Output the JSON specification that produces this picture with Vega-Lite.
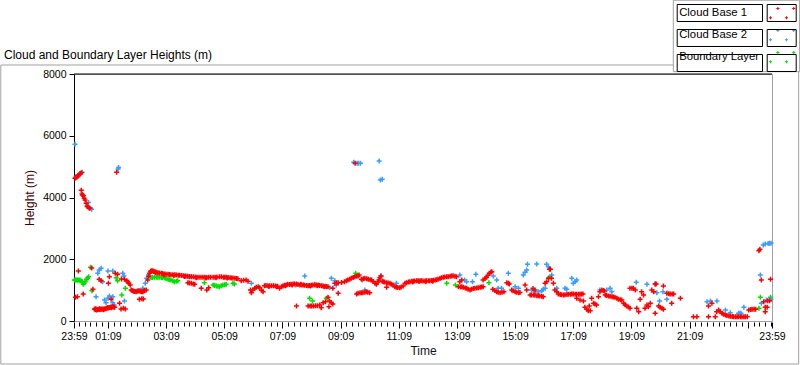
{
"$schema":"https://vega.github.io/schema/vega-lite/v6.json",
"width":698,"height":247,
"autosize":{"type":"none"},
"padding":{"left":74,"top":74,"right":28,"bottom":44},
"background":"white",
"config":{"font":"Liberation Sans","view":{"stroke":"#a0a0a0"}},
"title":{"text":"Cloud and Boundary Layer Heights (m)","anchor":"start","frame":"group","dx":-70,"offset":-74,"baseline":"bottom","fontSize":12,"fontWeight":"normal","color":"#000000","font":"Liberation Sans"},
"resolve":{"axis":{"x":"independent"}},
"layer":[
{"data":{"values":[{"frame":"outer"}]},
"mark":{"type":"rect","fill":null,"stroke":"#a0a0a0","strokeWidth":1,"clip":false},
"encoding":{
"x":{"datum":-151,"type":"quantitative","scale":{"domain":[0,1440],"nice":false,"zero":false},"axis":{"orient":"bottom","values":[10,22,34,46,58,70,82,94,106,118,130,142,154,166,178,190,202,214,226,238,250,262,274,286,298,310,322,334,346,358,370,382,394,406,418,430,442,454,466,478,490,502,514,526,538,550,562,574,586,598,610,622,634,646,658,670,682,694,706,718,730,742,754,766,778,790,802,814,826,838,850,862,874,886,898,910,922,934,946,958,970,982,994,1006,1018,1030,1042,1054,1066,1078,1090,1102,1114,1126,1138,1150,1162,1174,1186,1198,1210,1222,1234,1246,1258,1270,1282,1294,1306,1318,1330,1342,1354,1366,1378,1390,1402,1414,1426,1438],"labels":false,"domain":false,"grid":false,"tickSize":4,"tickColor":"#000000","offset":1,"title":null}},
"x2":{"datum":1495},
"y":{"datum":8291,"type":"quantitative","scale":{"domain":[0,8000],"nice":false}},
"y2":{"datum":-1393}
}},
{"data":{"values":[{"frame":"legend panel"}]},
"mark":{"type":"rect","fill":"#ffffff","stroke":"#a0a0a0","strokeWidth":1,"clip":false},
"encoding":{
"x":{"datum":1236.4,"type":"quantitative","axis":null},
"x2":{"datum":1497},
"y":{"datum":10389,"type":"quantitative"},
"y2":{"datum":8075}
}},
{"data":{"values":[{"edge":"top"}]},"mark":{"type":"rule","color":"#000000","strokeWidth":1},"encoding":{"y":{"datum":8000,"type":"quantitative"}}},
{"data":{"values":[
{"s":3,"t":1,"h":1328},{"s":3,"t":3,"h":1328},{"s":3,"t":5,"h":1330},{"s":3,"t":7.6,"h":1328},{"s":3,"t":10,"h":1320},{"s":3,"t":12,"h":1328},{"s":3,"t":14,"h":1300},{"s":3,"t":16.5,"h":1274},{"s":3,"t":19,"h":1188},{"s":3,"t":21,"h":1230},{"s":3,"t":23,"h":1274},{"s":3,"t":26,"h":1350},{"s":3,"t":28,"h":1390},{"s":3,"t":30,"h":1436},{"s":3,"t":34,"h":1739},{"s":3,"t":37,"h":983},{"s":3,"t":87,"h":1404},{"s":3,"t":90,"h":1307},{"s":3,"t":98.5,"h":842},{"s":3,"t":106,"h":1058},{"s":3,"t":159,"h":1404},{"s":3,"t":162,"h":1410},{"s":3,"t":166,"h":1415},{"s":3,"t":170,"h":1418},{"s":3,"t":173,"h":1415},{"s":3,"t":176,"h":1415},{"s":3,"t":180,"h":1410},{"s":3,"t":183,"h":1410},{"s":3,"t":187,"h":1404},{"s":3,"t":190,"h":1380},{"s":3,"t":194,"h":1350},{"s":3,"t":197,"h":1340},{"s":3,"t":200,"h":1328},{"s":3,"t":204,"h":1300},{"s":3,"t":207,"h":1274},{"s":3,"t":211,"h":1290},{"s":3,"t":214,"h":1307},{"s":3,"t":269,"h":1242},{"s":3,"t":287,"h":1166},{"s":3,"t":290,"h":1150},{"s":3,"t":293.5,"h":1134},{"s":3,"t":297,"h":1125},{"s":3,"t":300,"h":1112},{"s":3,"t":304,"h":1140},{"s":3,"t":307,"h":1166},{"s":3,"t":311,"h":1175},{"s":3,"t":314,"h":1188},{"s":3,"t":328,"h":1220},{"s":3,"t":331,"h":1199},{"s":3,"t":486,"h":734},{"s":3,"t":492,"h":648},{"s":3,"t":520.6,"h":734},{"s":3,"t":581,"h":1544},{"s":3,"t":769,"h":1220},{"s":3,"t":787,"h":1166},{"s":3,"t":856,"h":1242},{"s":3,"t":979,"h":1382},{"s":3,"t":982,"h":1415},{"s":3,"t":1413,"h":410},{"s":3,"t":1416,"h":767},{"s":3,"t":1437,"h":767},
{"s":2,"t":2,"h":5724},{"s":2,"t":4,"h":4680},{"s":2,"t":8,"h":4700},{"s":2,"t":12,"h":4760},{"s":2,"t":17,"h":4820},{"s":2,"t":19,"h":4060},{"s":2,"t":30,"h":3840},{"s":2,"t":36.5,"h":3620},{"s":2,"t":91,"h":4925},{"s":2,"t":92,"h":4970},{"s":2,"t":45.5,"h":788},{"s":2,"t":49,"h":1544},{"s":2,"t":52,"h":1652},{"s":2,"t":56,"h":1706},{"s":2,"t":59,"h":1274},{"s":2,"t":63,"h":680},{"s":2,"t":66,"h":594},{"s":2,"t":70,"h":734},{"s":2,"t":73,"h":810},{"s":2,"t":80,"h":788},{"s":2,"t":70,"h":1620},{"s":2,"t":80,"h":1620},{"s":2,"t":80,"h":594},{"s":2,"t":83,"h":518},{"s":2,"t":100.6,"h":1544},{"s":2,"t":103,"h":1458},{"s":2,"t":104,"h":648},{"s":2,"t":142,"h":1058},{"s":2,"t":147,"h":1220},{"s":2,"t":150,"h":1382},{"s":2,"t":153.6,"h":1490},{"s":2,"t":231,"h":1447},{"s":2,"t":235,"h":1447},{"s":2,"t":238,"h":1436},{"s":2,"t":242,"h":1440},{"s":2,"t":366,"h":1220},{"s":2,"t":457.5,"h":1166},{"s":2,"t":476,"h":1458},{"s":2,"t":496.5,"h":1188},{"s":2,"t":531,"h":1382},{"s":2,"t":538,"h":1307},{"s":2,"t":527.5,"h":1080},{"s":2,"t":541,"h":1166},{"s":2,"t":577,"h":5140},{"s":2,"t":584,"h":5108},{"s":2,"t":587,"h":5108},{"s":2,"t":591,"h":5108},{"s":2,"t":629.5,"h":5184},{"s":2,"t":632,"h":4570},{"s":2,"t":636,"h":4590},{"s":2,"t":595,"h":1328},{"s":2,"t":600,"h":1004},{"s":2,"t":634,"h":1458},{"s":2,"t":665,"h":1220},{"s":2,"t":796,"h":1490},{"s":2,"t":806,"h":1328},{"s":2,"t":810,"h":1274},{"s":2,"t":822,"h":1274},{"s":2,"t":829,"h":1512},{"s":2,"t":865,"h":1458},{"s":2,"t":872,"h":1328},{"s":2,"t":875,"h":1058},{"s":2,"t":882,"h":1058},{"s":2,"t":896,"h":1544},{"s":2,"t":910,"h":1112},{"s":2,"t":917,"h":1058},{"s":2,"t":927,"h":1490},{"s":2,"t":930.6,"h":1577},{"s":2,"t":934,"h":1652},{"s":2,"t":935.5,"h":1836},{"s":2,"t":944,"h":1004},{"s":2,"t":951,"h":950},{"s":2,"t":958,"h":950},{"s":2,"t":965,"h":983},{"s":2,"t":968,"h":1026},{"s":2,"t":972,"h":1058},{"s":2,"t":954.5,"h":1847},{"s":2,"t":975,"h":1836},{"s":2,"t":978.6,"h":1760},{"s":2,"t":985.5,"h":1490},{"s":2,"t":996,"h":1058},{"s":2,"t":1013,"h":1058},{"s":2,"t":1016.5,"h":1026},{"s":2,"t":1027,"h":1382},{"s":2,"t":1030,"h":1220},{"s":2,"t":1034,"h":1274},{"s":2,"t":1037,"h":1328},{"s":2,"t":1085,"h":1004},{"s":2,"t":1099,"h":1004},{"s":2,"t":1106,"h":1058},{"s":2,"t":1109.5,"h":950},{"s":2,"t":1160,"h":1253},{"s":2,"t":1182,"h":1188},{"s":2,"t":1199,"h":1199},{"s":2,"t":1202.5,"h":918},{"s":2,"t":1208,"h":648},{"s":2,"t":1215,"h":950},{"s":2,"t":1223,"h":702},{"s":2,"t":1306,"h":626},{"s":2,"t":1313,"h":648},{"s":2,"t":1326.5,"h":648},{"s":2,"t":1344,"h":356},{"s":2,"t":1354,"h":270},{"s":2,"t":1371,"h":248},{"s":2,"t":1374,"h":248},{"s":2,"t":1376,"h":248},{"s":2,"t":1382,"h":443},{"s":2,"t":1416,"h":1490},{"s":2,"t":1418,"h":572},{"s":2,"t":1422,"h":2462},{"s":2,"t":1426,"h":2495},{"s":2,"t":1432,"h":2510},{"s":2,"t":1435,"h":2516},{"s":2,"t":1438,"h":2516},{"s":2,"t":1428.5,"h":680},{"s":2,"t":1438,"h":702},
{"s":1,"t":2,"h":4620},{"s":1,"t":4,"h":4640},{"s":1,"t":6,"h":4660},{"s":1,"t":8,"h":4700},{"s":1,"t":10,"h":4730},{"s":1,"t":12,"h":4760},{"s":1,"t":13,"h":4780},{"s":1,"t":15,"h":4800},{"s":1,"t":15,"h":4234},{"s":1,"t":16.5,"h":4115},{"s":1,"t":18,"h":4080},{"s":1,"t":19,"h":4060},{"s":1,"t":21,"h":3975},{"s":1,"t":23,"h":3920},{"s":1,"t":25,"h":3810},{"s":1,"t":27,"h":3720},{"s":1,"t":29,"h":3690},{"s":1,"t":31,"h":3660},{"s":1,"t":33,"h":3650},{"s":1,"t":3,"h":767},{"s":1,"t":7,"h":788},{"s":1,"t":9,"h":1620},{"s":1,"t":19,"h":875},{"s":1,"t":36.5,"h":1717},{"s":1,"t":39,"h":1026},{"s":1,"t":88,"h":4817},
{"s":1,"t":42,"h":389},{"s":1,"t":44,"h":370},{"s":1,"t":45,"h":400},{"s":1,"t":46,"h":356},{"s":1,"t":48,"h":365},{"s":1,"t":50,"h":378},{"s":1,"t":52,"h":370},{"s":1,"t":53,"h":395},{"s":1,"t":54,"h":380},{"s":1,"t":56,"h":378},{"s":1,"t":58,"h":385},{"s":1,"t":60,"h":378},{"s":1,"t":61,"h":365},{"s":1,"t":62,"h":390},{"s":1,"t":64,"h":395},{"s":1,"t":66,"h":400},{"s":1,"t":68,"h":410},{"s":1,"t":69,"h":440},{"s":1,"t":70,"h":420},{"s":1,"t":72,"h":432},{"s":1,"t":74,"h":440},{"s":1,"t":76,"h":450},{"s":1,"t":77,"h":430},{"s":1,"t":78,"h":455},{"s":1,"t":80,"h":464},{"s":1,"t":82,"h":450},{"s":1,"t":84,"h":443},
{"s":1,"t":52,"h":1350},{"s":1,"t":56,"h":1307},{"s":1,"t":71,"h":1220},{"s":1,"t":73,"h":1436},{"s":1,"t":76.5,"h":702},{"s":1,"t":85,"h":1544},{"s":1,"t":90,"h":1512},{"s":1,"t":94,"h":572},{"s":1,"t":97,"h":389},{"s":1,"t":102,"h":410},{"s":1,"t":106,"h":389},{"s":1,"t":98,"h":1361},{"s":1,"t":104,"h":1350},{"s":1,"t":109,"h":1307},{"s":1,"t":111,"h":1260},{"s":1,"t":113,"h":1220},{"s":1,"t":116,"h":1166},
{"s":1,"t":118,"h":1004},{"s":1,"t":120,"h":990},{"s":1,"t":122,"h":975},{"s":1,"t":124,"h":960},{"s":1,"t":126,"h":955},{"s":1,"t":128,"h":950},{"s":1,"t":130,"h":960},{"s":1,"t":132,"h":975},{"s":1,"t":134,"h":983},{"s":1,"t":136,"h":970},{"s":1,"t":138,"h":955},{"s":1,"t":140,"h":950},{"s":1,"t":142,"h":950},{"s":1,"t":144,"h":970},{"s":1,"t":146,"h":990},{"s":1,"t":149,"h":1004},{"s":1,"t":135,"h":702},{"s":1,"t":140,"h":724},{"s":1,"t":143,"h":713},
{"s":1,"t":152,"h":1328},{"s":1,"t":154,"h":1450},{"s":1,"t":156,"h":1544},{"s":1,"t":158,"h":1600},{"s":1,"t":159,"h":1620},{"s":1,"t":161,"h":1630},{"s":1,"t":163,"h":1620},{"s":1,"t":165,"h":1605},{"s":1,"t":167,"h":1598},{"s":1,"t":170,"h":1580},{"s":1,"t":173,"h":1566},{"s":1,"t":176,"h":1555},{"s":1,"t":180,"h":1544},{"s":1,"t":183,"h":1535},{"s":1,"t":187,"h":1523},{"s":1,"t":190,"h":1515},{"s":1,"t":194,"h":1512},{"s":1,"t":197,"h":1505},{"s":1,"t":200,"h":1500},{"s":1,"t":204,"h":1500},{"s":1,"t":208,"h":1495},{"s":1,"t":211,"h":1490},{"s":1,"t":215,"h":1485},{"s":1,"t":218,"h":1480},{"s":1,"t":222,"h":1470},{"s":1,"t":226,"h":1465},{"s":1,"t":230,"h":1458},{"s":1,"t":234,"h":1450},{"s":1,"t":238,"h":1445},{"s":1,"t":242,"h":1436},{"s":1,"t":246,"h":1430},{"s":1,"t":250,"h":1425},{"s":1,"t":254,"h":1420},{"s":1,"t":258,"h":1415},{"s":1,"t":262,"h":1418},{"s":1,"t":266,"h":1415},{"s":1,"t":270,"h":1415},{"s":1,"t":274,"h":1412},{"s":1,"t":278,"h":1415},{"s":1,"t":282,"h":1418},{"s":1,"t":287,"h":1415},{"s":1,"t":291,"h":1420},{"s":1,"t":295,"h":1428},{"s":1,"t":300,"h":1436},{"s":1,"t":304,"h":1430},{"s":1,"t":308,"h":1420},{"s":1,"t":311,"h":1415},{"s":1,"t":314,"h":1415},{"s":1,"t":318,"h":1405},{"s":1,"t":322,"h":1400},{"s":1,"t":325,"h":1395},{"s":1,"t":328,"h":1393},{"s":1,"t":332,"h":1385},{"s":1,"t":335,"h":1380},{"s":1,"t":338,"h":1372},
{"s":1,"t":168,"h":1560},{"s":1,"t":185,"h":1500},{"s":1,"t":206,"h":1470},{"s":1,"t":228,"h":1440},{"s":1,"t":252,"h":1400},{"s":1,"t":272,"h":1395},{"s":1,"t":293,"h":1400},{"s":1,"t":316,"h":1390},
{"s":1,"t":235,"h":1242},{"s":1,"t":238,"h":1230},{"s":1,"t":242,"h":1220},{"s":1,"t":246,"h":1200},{"s":1,"t":249,"h":1188},{"s":1,"t":262.5,"h":1058},{"s":1,"t":274,"h":1004},{"s":1,"t":278,"h":1080},
{"s":1,"t":345,"h":1307},{"s":1,"t":350,"h":1320},{"s":1,"t":355,"h":1328},{"s":1,"t":359,"h":1285},{"s":1,"t":364,"h":1004},{"s":1,"t":366,"h":918},{"s":1,"t":369,"h":1004},{"s":1,"t":373,"h":1058},{"s":1,"t":376,"h":1090},{"s":1,"t":380,"h":1112},{"s":1,"t":383,"h":1080},{"s":1,"t":387,"h":1000},{"s":1,"t":390,"h":950},
{"s":1,"t":393,"h":1145},{"s":1,"t":396,"h":1150},{"s":1,"t":400,"h":1145},{"s":1,"t":404,"h":1145},{"s":1,"t":408,"h":1140},{"s":1,"t":412,"h":1138},{"s":1,"t":416,"h":1134},{"s":1,"t":420,"h":1125},{"s":1,"t":424,"h":1058},{"s":1,"t":428,"h":1112},{"s":1,"t":431,"h":1134},{"s":1,"t":434,"h":1160},{"s":1,"t":438,"h":1166},{"s":1,"t":441,"h":1188},{"s":1,"t":445,"h":1180},{"s":1,"t":448,"h":1190},{"s":1,"t":452,"h":1199},{"s":1,"t":455,"h":1195},{"s":1,"t":459,"h":1200},{"s":1,"t":462,"h":1180},{"s":1,"t":466,"h":1170},{"s":1,"t":470,"h":1166},{"s":1,"t":473,"h":1166},{"s":1,"t":476,"h":1160},{"s":1,"t":480,"h":1150},{"s":1,"t":483,"h":1145},{"s":1,"t":486,"h":1150},{"s":1,"t":490,"h":1160},{"s":1,"t":493,"h":1166},{"s":1,"t":497,"h":1166},{"s":1,"t":500,"h":1166},{"s":1,"t":504,"h":1166},{"s":1,"t":507,"h":1150},{"s":1,"t":511,"h":1140},{"s":1,"t":514,"h":1134},{"s":1,"t":518,"h":1125},{"s":1,"t":521,"h":1118},{"s":1,"t":524,"h":1112},
{"s":1,"t":402,"h":1120},{"s":1,"t":418,"h":1110},{"s":1,"t":436,"h":1140},{"s":1,"t":450,"h":1170},{"s":1,"t":468,"h":1190},{"s":1,"t":488,"h":1130},{"s":1,"t":502,"h":1140},{"s":1,"t":516,"h":1110},
{"s":1,"t":459,"h":486},{"s":1,"t":483,"h":486},{"s":1,"t":487,"h":486},{"s":1,"t":490,"h":486},{"s":1,"t":494,"h":486},{"s":1,"t":498,"h":490},{"s":1,"t":502,"h":497},{"s":1,"t":507,"h":518},{"s":1,"t":510,"h":432},{"s":1,"t":514,"h":594},{"s":1,"t":518.6,"h":626},{"s":1,"t":524,"h":767},{"s":1,"t":526,"h":464},{"s":1,"t":527,"h":648},{"s":1,"t":531,"h":594},{"s":1,"t":534,"h":550},
{"s":1,"t":534,"h":1058},{"s":1,"t":538,"h":1220},{"s":1,"t":542,"h":1230},{"s":1,"t":545,"h":1242},{"s":1,"t":545,"h":896},{"s":1,"t":552,"h":1250},{"s":1,"t":558,"h":1274},{"s":1,"t":562,"h":1300},{"s":1,"t":565,"h":1328},{"s":1,"t":569,"h":1355},{"s":1,"t":572,"h":1382},{"s":1,"t":576,"h":1410},{"s":1,"t":579,"h":1436},{"s":1,"t":583,"h":1450},{"s":1,"t":586,"h":1458},{"s":1,"t":588,"h":1490},{"s":1,"t":580,"h":5108},
{"s":1,"t":583,"h":875},{"s":1,"t":586,"h":895},{"s":1,"t":590,"h":918},{"s":1,"t":593,"h":915},{"s":1,"t":596,"h":918},{"s":1,"t":600,"h":930},{"s":1,"t":603,"h":950},{"s":1,"t":606,"h":930},{"s":1,"t":610,"h":918},
{"s":1,"t":593,"h":1350},{"s":1,"t":597,"h":1370},{"s":1,"t":600,"h":1382},{"s":1,"t":604,"h":1365},{"s":1,"t":607,"h":1350},{"s":1,"t":611,"h":1340},{"s":1,"t":614,"h":1328},{"s":1,"t":617,"h":1280},{"s":1,"t":621,"h":1220},{"s":1,"t":624,"h":1188},{"s":1,"t":627,"h":1260},{"s":1,"t":629,"h":1328},{"s":1,"t":631,"h":1400},{"s":1,"t":633,"h":1458},
{"s":1,"t":636,"h":1290},{"s":1,"t":638,"h":1274},{"s":1,"t":641,"h":1260},{"s":1,"t":645,"h":1242},{"s":1,"t":648,"h":1230},{"s":1,"t":652,"h":1220},{"s":1,"t":655,"h":1190},{"s":1,"t":658,"h":1166},{"s":1,"t":662,"h":1112},{"s":1,"t":645,"h":1091},{"s":1,"t":665,"h":1091},{"s":1,"t":668,"h":1085},{"s":1,"t":672,"h":1080},{"s":1,"t":675,"h":1100},{"s":1,"t":679,"h":1134},{"s":1,"t":683,"h":1220},{"s":1,"t":686,"h":1242},
{"s":1,"t":690,"h":1265},{"s":1,"t":693,"h":1274},{"s":1,"t":697,"h":1285},{"s":1,"t":700,"h":1290},{"s":1,"t":703,"h":1296},{"s":1,"t":707,"h":1300},{"s":1,"t":710,"h":1305},{"s":1,"t":714,"h":1307},{"s":1,"t":717,"h":1300},{"s":1,"t":720,"h":1296},{"s":1,"t":724,"h":1296},{"s":1,"t":727,"h":1300},{"s":1,"t":731,"h":1305},{"s":1,"t":734,"h":1307},{"s":1,"t":738,"h":1315},{"s":1,"t":741,"h":1320},{"s":1,"t":745,"h":1328},{"s":1,"t":748,"h":1340},{"s":1,"t":699,"h":1260},{"s":1,"t":712,"h":1280},{"s":1,"t":726,"h":1270},{"s":1,"t":740,"h":1290},
{"s":1,"t":751,"h":1350},{"s":1,"t":755,"h":1380},{"s":1,"t":758,"h":1400},{"s":1,"t":762,"h":1415},{"s":1,"t":765,"h":1425},{"s":1,"t":769,"h":1436},{"s":1,"t":772,"h":1436},{"s":1,"t":776,"h":1450},{"s":1,"t":779,"h":1460},{"s":1,"t":782,"h":1469},{"s":1,"t":786,"h":1450},{"s":1,"t":789,"h":1436},
{"s":1,"t":793,"h":1112},{"s":1,"t":796,"h":1274},{"s":1,"t":800,"h":1328},{"s":1,"t":797,"h":1100},{"s":1,"t":800,"h":1112},{"s":1,"t":803,"h":1090},{"s":1,"t":807,"h":1070},{"s":1,"t":810,"h":1058},{"s":1,"t":813,"h":1030},{"s":1,"t":817,"h":1004},{"s":1,"t":820,"h":1030},{"s":1,"t":824,"h":1050},{"s":1,"t":827,"h":1058},{"s":1,"t":831,"h":1070},{"s":1,"t":834,"h":1080},{"s":1,"t":838,"h":1091},{"s":1,"t":841,"h":1100},{"s":1,"t":844,"h":1112},
{"s":1,"t":844,"h":1328},{"s":1,"t":848,"h":1380},{"s":1,"t":851,"h":1415},{"s":1,"t":854,"h":1480},{"s":1,"t":857,"h":1544},{"s":1,"t":860,"h":1580},{"s":1,"t":862,"h":1598},{"s":1,"t":864,"h":1026},{"s":1,"t":868,"h":990},{"s":1,"t":872,"h":950},{"s":1,"t":875,"h":930},{"s":1,"t":879,"h":918},{"s":1,"t":883,"h":930},{"s":1,"t":887,"h":950},{"s":1,"t":893,"h":1242},{"s":1,"t":896,"h":1220},{"s":1,"t":898,"h":1199},{"s":1,"t":903,"h":1004},{"s":1,"t":906,"h":980},{"s":1,"t":910,"h":950},{"s":1,"t":913,"h":935},{"s":1,"t":917,"h":918},{"s":1,"t":920,"h":925},{"s":1,"t":930.6,"h":1166},{"s":1,"t":934,"h":1004},
{"s":1,"t":941,"h":842},{"s":1,"t":944,"h":845},{"s":1,"t":948,"h":842},{"s":1,"t":951,"h":830},{"s":1,"t":955,"h":821},{"s":1,"t":958,"h":815},{"s":1,"t":961,"h":810},{"s":1,"t":965,"h":800},{"s":1,"t":968,"h":788},{"s":1,"t":947,"h":1050},{"s":1,"t":951,"h":1004},
{"s":1,"t":972,"h":1220},{"s":1,"t":975,"h":1274},{"s":1,"t":979,"h":1382},{"s":1,"t":981,"h":1674},{"s":1,"t":983,"h":1674},{"s":1,"t":985,"h":1382},{"s":1,"t":989,"h":1220},{"s":1,"t":992,"h":1004},{"s":1,"t":996,"h":950},
{"s":1,"t":999,"h":875},{"s":1,"t":1003,"h":860},{"s":1,"t":1006,"h":850},{"s":1,"t":1010,"h":842},{"s":1,"t":1013,"h":850},{"s":1,"t":1017,"h":860},{"s":1,"t":1020,"h":864},{"s":1,"t":1024,"h":870},{"s":1,"t":1027,"h":875},{"s":1,"t":1030,"h":875},{"s":1,"t":1034,"h":870},{"s":1,"t":1037,"h":865},{"s":1,"t":1041,"h":864},{"s":1,"t":1044,"h":870},{"s":1,"t":1047,"h":875},{"s":1,"t":1050,"h":875},
{"s":1,"t":1037,"h":734},{"s":1,"t":1044,"h":680},{"s":1,"t":1051,"h":648},{"s":1,"t":1054,"h":443},{"s":1,"t":1058,"h":378},{"s":1,"t":1061,"h":335},{"s":1,"t":1065,"h":335},{"s":1,"t":1068,"h":734},{"s":1,"t":1063,"h":486},{"s":1,"t":1072,"h":572},{"s":1,"t":1075,"h":550},{"s":1,"t":1078,"h":518},
{"s":1,"t":1082,"h":788},{"s":1,"t":1085,"h":950},{"s":1,"t":1089,"h":1004},{"s":1,"t":1092,"h":990},{"s":1,"t":1094,"h":972},
{"s":1,"t":1096,"h":842},{"s":1,"t":1099,"h":825},{"s":1,"t":1103,"h":810},{"s":1,"t":1106,"h":800},{"s":1,"t":1110,"h":788},{"s":1,"t":1113,"h":775},{"s":1,"t":1116,"h":767},{"s":1,"t":1120,"h":735},{"s":1,"t":1123,"h":702},{"s":1,"t":1127,"h":690},{"s":1,"t":1130,"h":680},{"s":1,"t":1134,"h":572},{"s":1,"t":1137,"h":530},{"s":1,"t":1140,"h":486},{"s":1,"t":1144,"h":450},{"s":1,"t":1147,"h":410},
{"s":1,"t":1147,"h":1058},{"s":1,"t":1151,"h":1060},{"s":1,"t":1154,"h":1058},{"s":1,"t":1158,"h":1004},{"s":1,"t":1161,"h":410},{"s":1,"t":1165,"h":302},{"s":1,"t":1168,"h":702},{"s":1,"t":1171,"h":950},{"s":1,"t":1175,"h":842},{"s":1,"t":1178,"h":410},{"s":1,"t":1182,"h":518},{"s":1,"t":1185,"h":464},{"s":1,"t":1189,"h":572},
{"s":1,"t":1192,"h":1004},{"s":1,"t":1196,"h":950},{"s":1,"t":1199,"h":1199},{"s":1,"t":1201,"h":1199},{"s":1,"t":1199,"h":248},{"s":1,"t":1206,"h":486},{"s":1,"t":1209,"h":443},{"s":1,"t":1213,"h":410},{"s":1,"t":1216,"h":378},{"s":1,"t":1216,"h":1134},
{"s":1,"t":1223,"h":896},{"s":1,"t":1227,"h":885},{"s":1,"t":1230,"h":875},{"s":1,"t":1234,"h":875},{"s":1,"t":1237,"h":875},{"s":1,"t":1233,"h":572},{"s":1,"t":1251,"h":734},
{"s":1,"t":1278,"h":140},{"s":1,"t":1285,"h":140},{"s":1,"t":1309,"h":140},{"s":1,"t":1309,"h":486},{"s":1,"t":1316,"h":572},{"s":1,"t":1323,"h":140},
{"s":1,"t":1326,"h":302},{"s":1,"t":1330,"h":356},{"s":1,"t":1333,"h":302},{"s":1,"t":1337,"h":248},{"s":1,"t":1340,"h":220},{"s":1,"t":1344,"h":194},{"s":1,"t":1347,"h":175},{"s":1,"t":1351,"h":162},{"s":1,"t":1354,"h":150},{"s":1,"t":1358,"h":145},{"s":1,"t":1361,"h":140},{"s":1,"t":1365,"h":140},{"s":1,"t":1368,"h":140},{"s":1,"t":1371,"h":140},{"s":1,"t":1375,"h":140},{"s":1,"t":1378,"h":140},{"s":1,"t":1382,"h":140},{"s":1,"t":1385,"h":140},{"s":1,"t":1389,"h":140},
{"s":1,"t":1392,"h":356},{"s":1,"t":1396,"h":370},{"s":1,"t":1399,"h":378},{"s":1,"t":1403,"h":378},{"s":1,"t":1406,"h":378},{"s":1,"t":1413,"h":2279},{"s":1,"t":1415,"h":2322},{"s":1,"t":1418,"h":1328},{"s":1,"t":1423,"h":626},{"s":1,"t":1426,"h":443},{"s":1,"t":1426,"h":302},{"s":1,"t":1430,"h":443},{"s":1,"t":1431,"h":659},{"s":1,"t":1435,"h":659},{"s":1,"t":1437,"h":1350}
]},
"mark":{"type":"point","shape":"M-1,0H1M0,-1V1","size":25,"filled":false,"strokeWidth":1.5,"opacity":1},
"encoding":{
"x":{"field":"t","type":"quantitative","scale":{"domain":[0,1440],"nice":false,"zero":false},"axis":{"orient":"bottom","values":[0,70,190,310,430,550,670,790,910,1030,1150,1270,1390,1440],"labelExpr":"datum.value == 1390 ? '' : format(floor(((datum.value+1439)%1440)/60),'02d') + ':' + format((datum.value+1439)%60,'02d')","labelFlush":false,"labelOverlap":false,"domain":false,"grid":false,"tickSize":6,"tickColor":"#000000","offset":1,"labelPadding":3,"labelFontSize":10.5,"labelColor":"#000000","labelFont":"Liberation Sans","title":"Time","titleFontSize":12,"titleFontWeight":"normal","titleColor":"#101020","titleFont":"Liberation Sans","titlePadding":4}},
"y":{"field":"h","type":"quantitative","scale":{"domain":[0,8000],"nice":false},"axis":{"values":[0,1000,2000,3000,4000,5000,6000,7000,8000],"format":"d","domainColor":"#000000","tickColor":"#000000","tickSize":5,"labelPadding":3,"labelFontSize":10.5,"labelColor":"#000000","labelFont":"Liberation Sans","grid":false,"title":"Height (m)","titleFontSize":12,"titleFontWeight":"normal","titleColor":"#3c0000","titleFont":"Liberation Sans","titlePadding":6}},
"color":{"field":"s","type":"nominal","scale":{"domain":[1,2,3],"range":["#ff0000","#3a9cff","#00e000"]},"legend":{"orient":"none","legendX":698.2,"legendY":-70.5,"title":null,"padding":0,"labelExpr":"datum.label == '1' ? 'Cloud Base 1' : datum.label == '2' ? 'Cloud Base 2' : 'Boundary Layer'","labelFontSize":11.3,"labelFont":"Liberation Sans","labelColor":"#000000","labelAlign":"left","labelOffset":-112,"symbolType":"M-0.6,-0.5H-0.26M-0.43,-0.67V-0.33M1.17,-0.5H1.51M1.34,-0.67V-0.33M-1.41,0.53H-1.07M-1.24,0.36V0.7M0.36,0.53H0.7M0.53,0.36V0.7","symbolSize":324,"symbolStrokeWidth":1,"symbolOffset":0,"rowPadding":4}},
"opacity":{"field":"s","type":"ordinal","scale":{"domain":[1,2,3,4],"range":[1,1,1,1]},"legend":{"orient":"none","legendX":698.2,"legendY":-70.5,"title":null,"padding":0,"values":[1,2,3],"labelExpr":"''","labelFontSize":11.3,"labelOffset":0,"symbolType":"M-11.61,-0.944H-2.13V0.944H-11.61ZM-1.611,-0.944H1.611V0.944H-1.611Z","symbolSize":324,"symbolStrokeWidth":1,"symbolOffset":0,"symbolStrokeColor":"#000000","symbolFillColor":"transparent","symbolOpacity":1,"rowPadding":4,"encode":{"symbols":{"stroke":{"value":"#000000"},"fill":{"value":"transparent"},"opacity":{"value":1}}}}}
}}
]
}
